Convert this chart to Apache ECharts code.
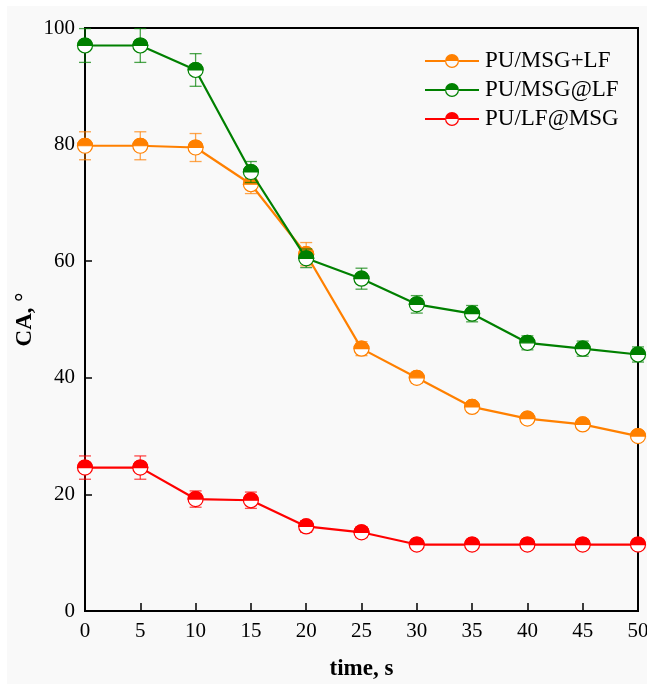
<!DOCTYPE html>
<html>
<head>
<meta charset="utf-8">
<script src="https://cdn.jsdelivr.net/npm/echarts@6/dist/echarts.min.js"></script>
<style>
html, body { margin: 0; padding: 0; background: #ffffff; }
#main { width: 647px; height: 684px; }
</style>
</head>
<body>
<div id="main"></div>
<script>
// 数据
var times = [0, 5, 10, 15, 20, 25, 30, 35, 40, 45, 50];
var names = ['PU/MSG+LF', 'PU/MSG@LF', 'PU/LF@MSG'];
var colors = ['#ff8000', '#008000', '#ff0000'];

var caMixed = [79.8, 79.8, 79.5, 73.2, 61.2, 45.0, 40.0, 35.0, 33.0, 32.0, 30.0];
var errMixed = [2.4, 2.4, 2.4, 1.6, 2.0, 1.2, 0.9, 0.8, 0.8, 0.8, 0.7];
var caMsgLf = [97.0, 97.0, 92.8, 75.3, 60.5, 57.0, 52.6, 51.0, 46.0, 45.0, 44.0];
var errMsgLf = [2.9, 2.9, 2.8, 1.8, 1.6, 1.8, 1.5, 1.4, 1.2, 1.3, 1.3];
var caLfMsg = [24.6, 24.6, 19.2, 19.0, 14.5, 13.5, 11.4, 11.4, 11.4, 11.4, 11.4];
var errLfMsg = [2.0, 2.0, 1.4, 1.4, 1.0, 0.9, 0.5, 0.5, 0.5, 0.5, 0.5];

var allVals = [caMixed, caMsgLf, caLfMsg];
var allErrs = [errMixed, errMsgLf, errLfMsg];

// 图例图标：线 + 上半实心圆
var legendIcon = 'path://M0 6L20 6L20 8L0 8Z' +
	'M34 6L54 6L54 8L34 8Z' +
	'M20 7A7 7 0 0 1 34 7Z' +
	'M20 7A7 7 0 0 0 34 7L32.8 7A5.8 5.8 0 0 1 21.2 7Z';

var myChart = echarts.init(document.getElementById('main'));

function makeMarker(idx) {
	var color = colors[idx];
	return function(params, api) {
		var x = api.value(0);
		var y = api.value(1);
		var e = api.value(2);
		var p = api.coord([x, y]);
		var top = api.coord([x, y + e]);
		var bot = api.coord([x, y - e]);
		var r = 7.5;
		var cap = 6;
		var errStyle = { stroke: color, lineWidth: 1.3, opacity: 0.7 };
		return {
			type : 'group',
			children : [ {
				type : 'line',
				shape : { x1: p[0], y1: top[1], x2: p[0], y2: bot[1] },
				style : errStyle
			}, {
				type : 'line',
				shape : { x1: p[0] - cap, y1: top[1], x2: p[0] + cap, y2: top[1] },
				style : errStyle
			}, {
				type : 'line',
				shape : { x1: p[0] - cap, y1: bot[1], x2: p[0] + cap, y2: bot[1] },
				style : errStyle
			}, {
				type : 'circle',
				shape : { cx: p[0], cy: p[1], r: r },
				style : { fill: '#ffffff', stroke: color, lineWidth: 1.2 }
			}, {
				type : 'sector',
				shape : { cx: p[0], cy: p[1], r: r, r0: 0, startAngle: Math.PI, endAngle: Math.PI * 2, clockwise: true },
				style : { fill: color, stroke: color, lineWidth: 1.2 }
			} ]
		};
	};
}

var series = [];
for (var i = 0; i < names.length; i++) {
	var lineData = [];
	var markData = [];
	for (var j = 0; j < times.length; j++) {
		lineData.push([times[j], allVals[i][j]]);
		markData.push([times[j], allVals[i][j], allErrs[i][j]]);
	}
	series.push({
		name : names[i],
		type : 'line',
		data : lineData,
		showSymbol : false,
		symbol : 'none',
		color : colors[i],
		lineStyle : { width: 2.2, color: colors[i] },
		z : 2 + i * 2,
		animation : false
	});
	series.push({
		name : names[i] + '_mk',
		type : 'custom',
		data : markData,
		renderItem : makeMarker(i),
		z : 3 + i * 2,
		clip : false,
		animation : false
	});
}

var option = {
	backgroundColor : '#ffffff',
	animation : false,
	graphic : [ {
		type : 'rect',
		left : 7,
		top : 6,
		z : -10,
		shape : { width: 640, height: 678 },
		style : { fill: '#f9f9f9' }
	} ],
	grid : {
		left : 85,
		right : 9,
		top : 28,
		bottom : 73,
		outerBoundsMode : 'none',
		containLabel : false,
		show : true,
		borderColor : '#000000',
		borderWidth : 2,
		backgroundColor : 'transparent'
	},
	legend : {
		orient : 'vertical',
		left : 425,
		top : 49,
		padding : 0,
		itemWidth : 54,
		itemHeight : 14,
		itemGap : 5,
		data : [ { name: names[0], icon: legendIcon }, { name: names[1], icon: legendIcon }, { name: names[2], icon: legendIcon } ],
		textStyle : {
			fontFamily : 'Liberation Serif',
			fontSize : 23,
			lineHeight : 24,
			color : '#000000',
			padding : [ 0, 0, 0, 1 ]
		}
	},
	xAxis : {
		type : 'value',
		min : 0,
		max : 50,
		interval : 5,
		name : 'time, s',
		nameLocation : 'middle',
		nameGap : 47,
		nameTextStyle : { fontFamily: 'Liberation Serif', fontSize: 23, fontWeight: 'bold', color: '#000' },
		axisLine : { show: true, lineStyle: { color: '#000', width: 2 } },
		axisTick : { show: true, inside: true, length: 8, lineStyle: { color: '#000', width: 1.5 } },
		axisLabel : { fontFamily: 'Liberation Serif', fontSize: 21, color: '#000', margin: 10 },
		splitLine : { show: false }
	},
	yAxis : {
		type : 'value',
		min : 0,
		max : 100,
		interval : 20,
		name : 'CA, °',
		nameLocation : 'middle',
		nameRotate : 90,
		nameGap : 48,
		nameMoveOverlap : false,
		nameTextStyle : { fontFamily: 'Liberation Serif', fontSize: 23, fontWeight: 'bold', color: '#000' },
		axisLine : { show: true, lineStyle: { color: '#000', width: 2 } },
		axisTick : { show: true, inside: true, length: 7, lineStyle: { color: '#000', width: 1.5 } },
		axisLabel : { fontFamily: 'Liberation Serif', fontSize: 21, color: '#000', margin: 10 },
		splitLine : { show: false }
	},
	series : series
};
myChart.setOption(option);
</script>
</body>
</html>
